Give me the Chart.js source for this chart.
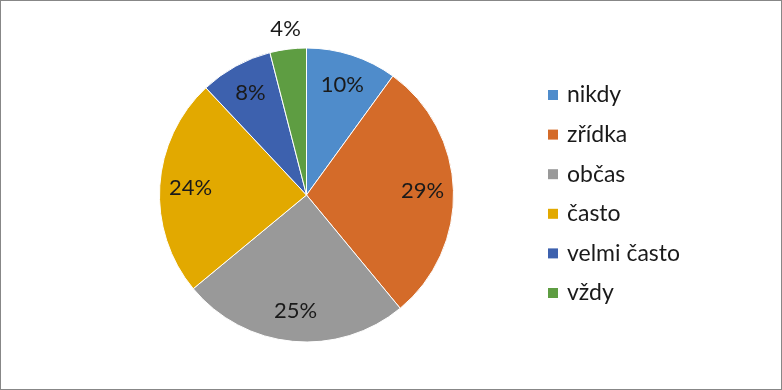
<!DOCTYPE html>
<html>
<head>
<meta charset="utf-8">
<script src="https://cdn.jsdelivr.net/npm/chart.js@4/dist/chart.umd.min.js"></script>
<style>
  html, body { margin: 0; padding: 0; background: #fff; }
  #wrap { width: 782px; height: 390px; }
</style>
</head>
<body>
<div id="wrap"><canvas id="pieChart" width="782" height="390"></canvas></div>
<script>
const categories = ['nikdy', 'zřídka', 'občas', 'často', 'velmi často', 'vždy'];
const shares = [10, 29, 25, 24, 8, 4];
const sliceColors = ['#4f8ccb', '#d46b29', '#999999', '#e2a900', '#3d61ae', '#5e9d42'];

const FONT = '"Lato", "Open Sans", sans-serif';

// white background + thin frame
const framePlugin = {
    id: 'frame',
    beforeDraw(chart) {
        const c = chart.ctx;
        c.save();
        c.fillStyle = '#fff';
        c.fillRect(0, 0, chart.width, chart.height);
        c.strokeStyle = '#878787';
        c.lineWidth = 1;
        c.strokeRect(0.5, 0.5, chart.width - 1, chart.height - 1);
        c.restore();
    }
};

// percent labels, inside the slices, small ones outside
const pctLabels = {
    id: 'pctLabels',
    afterDatasetsDraw(chart) {
        const c = chart.ctx;
        const meta = chart.getDatasetMeta(0);
        c.save();
        c.font = '22px ' + FONT;
        c.fillStyle = '#1a1a1a';
        c.textAlign = 'center';
        c.textBaseline = 'middle';
        meta.data.forEach((arc, i) => {
            const p = arc.getProps(['x', 'y', 'startAngle', 'endAngle', 'outerRadius'], true);
            const mid = (p.startAngle + p.endAngle) / 2;
            const r = shares[i] < 5 ? p.outerRadius + 20 : p.outerRadius * 0.79;
            c.fillText(shares[i] + '%', p.x + Math.cos(mid) * r, p.y + Math.sin(mid) * r);
        });
        c.restore();
    }
};

// legend on the right
const sideLegend = {
    id: 'sideLegend',
    afterDraw(chart) {
        const c = chart.ctx;
        c.save();
        c.font = '23px ' + FONT;
        c.textBaseline = 'middle';
        categories.forEach((name, i) => {
            const y = 95 + i * 39.6;
            c.fillStyle = sliceColors[i];
            c.fillRect(548, y - 5, 10, 10);
            c.fillStyle = '#1a1a1a';
            c.fillText(name, 567, y);
        });
        c.restore();
    }
};

new Chart(document.getElementById('pieChart'), {
    type: 'pie',
    data: {
        labels: categories,
        datasets: [{
            data: shares,
            backgroundColor: sliceColors,
            borderColor: '#ffffff',
            borderWidth: 1
        }]
    },
    options: {
        responsive: false,
        animation: false,
        layout: { padding: { left: 159, right: 328, top: 47, bottom: 47 } },
        plugins: {
            legend: { display: false },
            tooltip: { enabled: false }
        }
    },
    plugins: [framePlugin, pctLabels, sideLegend]
});
</script>
</body>
</html>
